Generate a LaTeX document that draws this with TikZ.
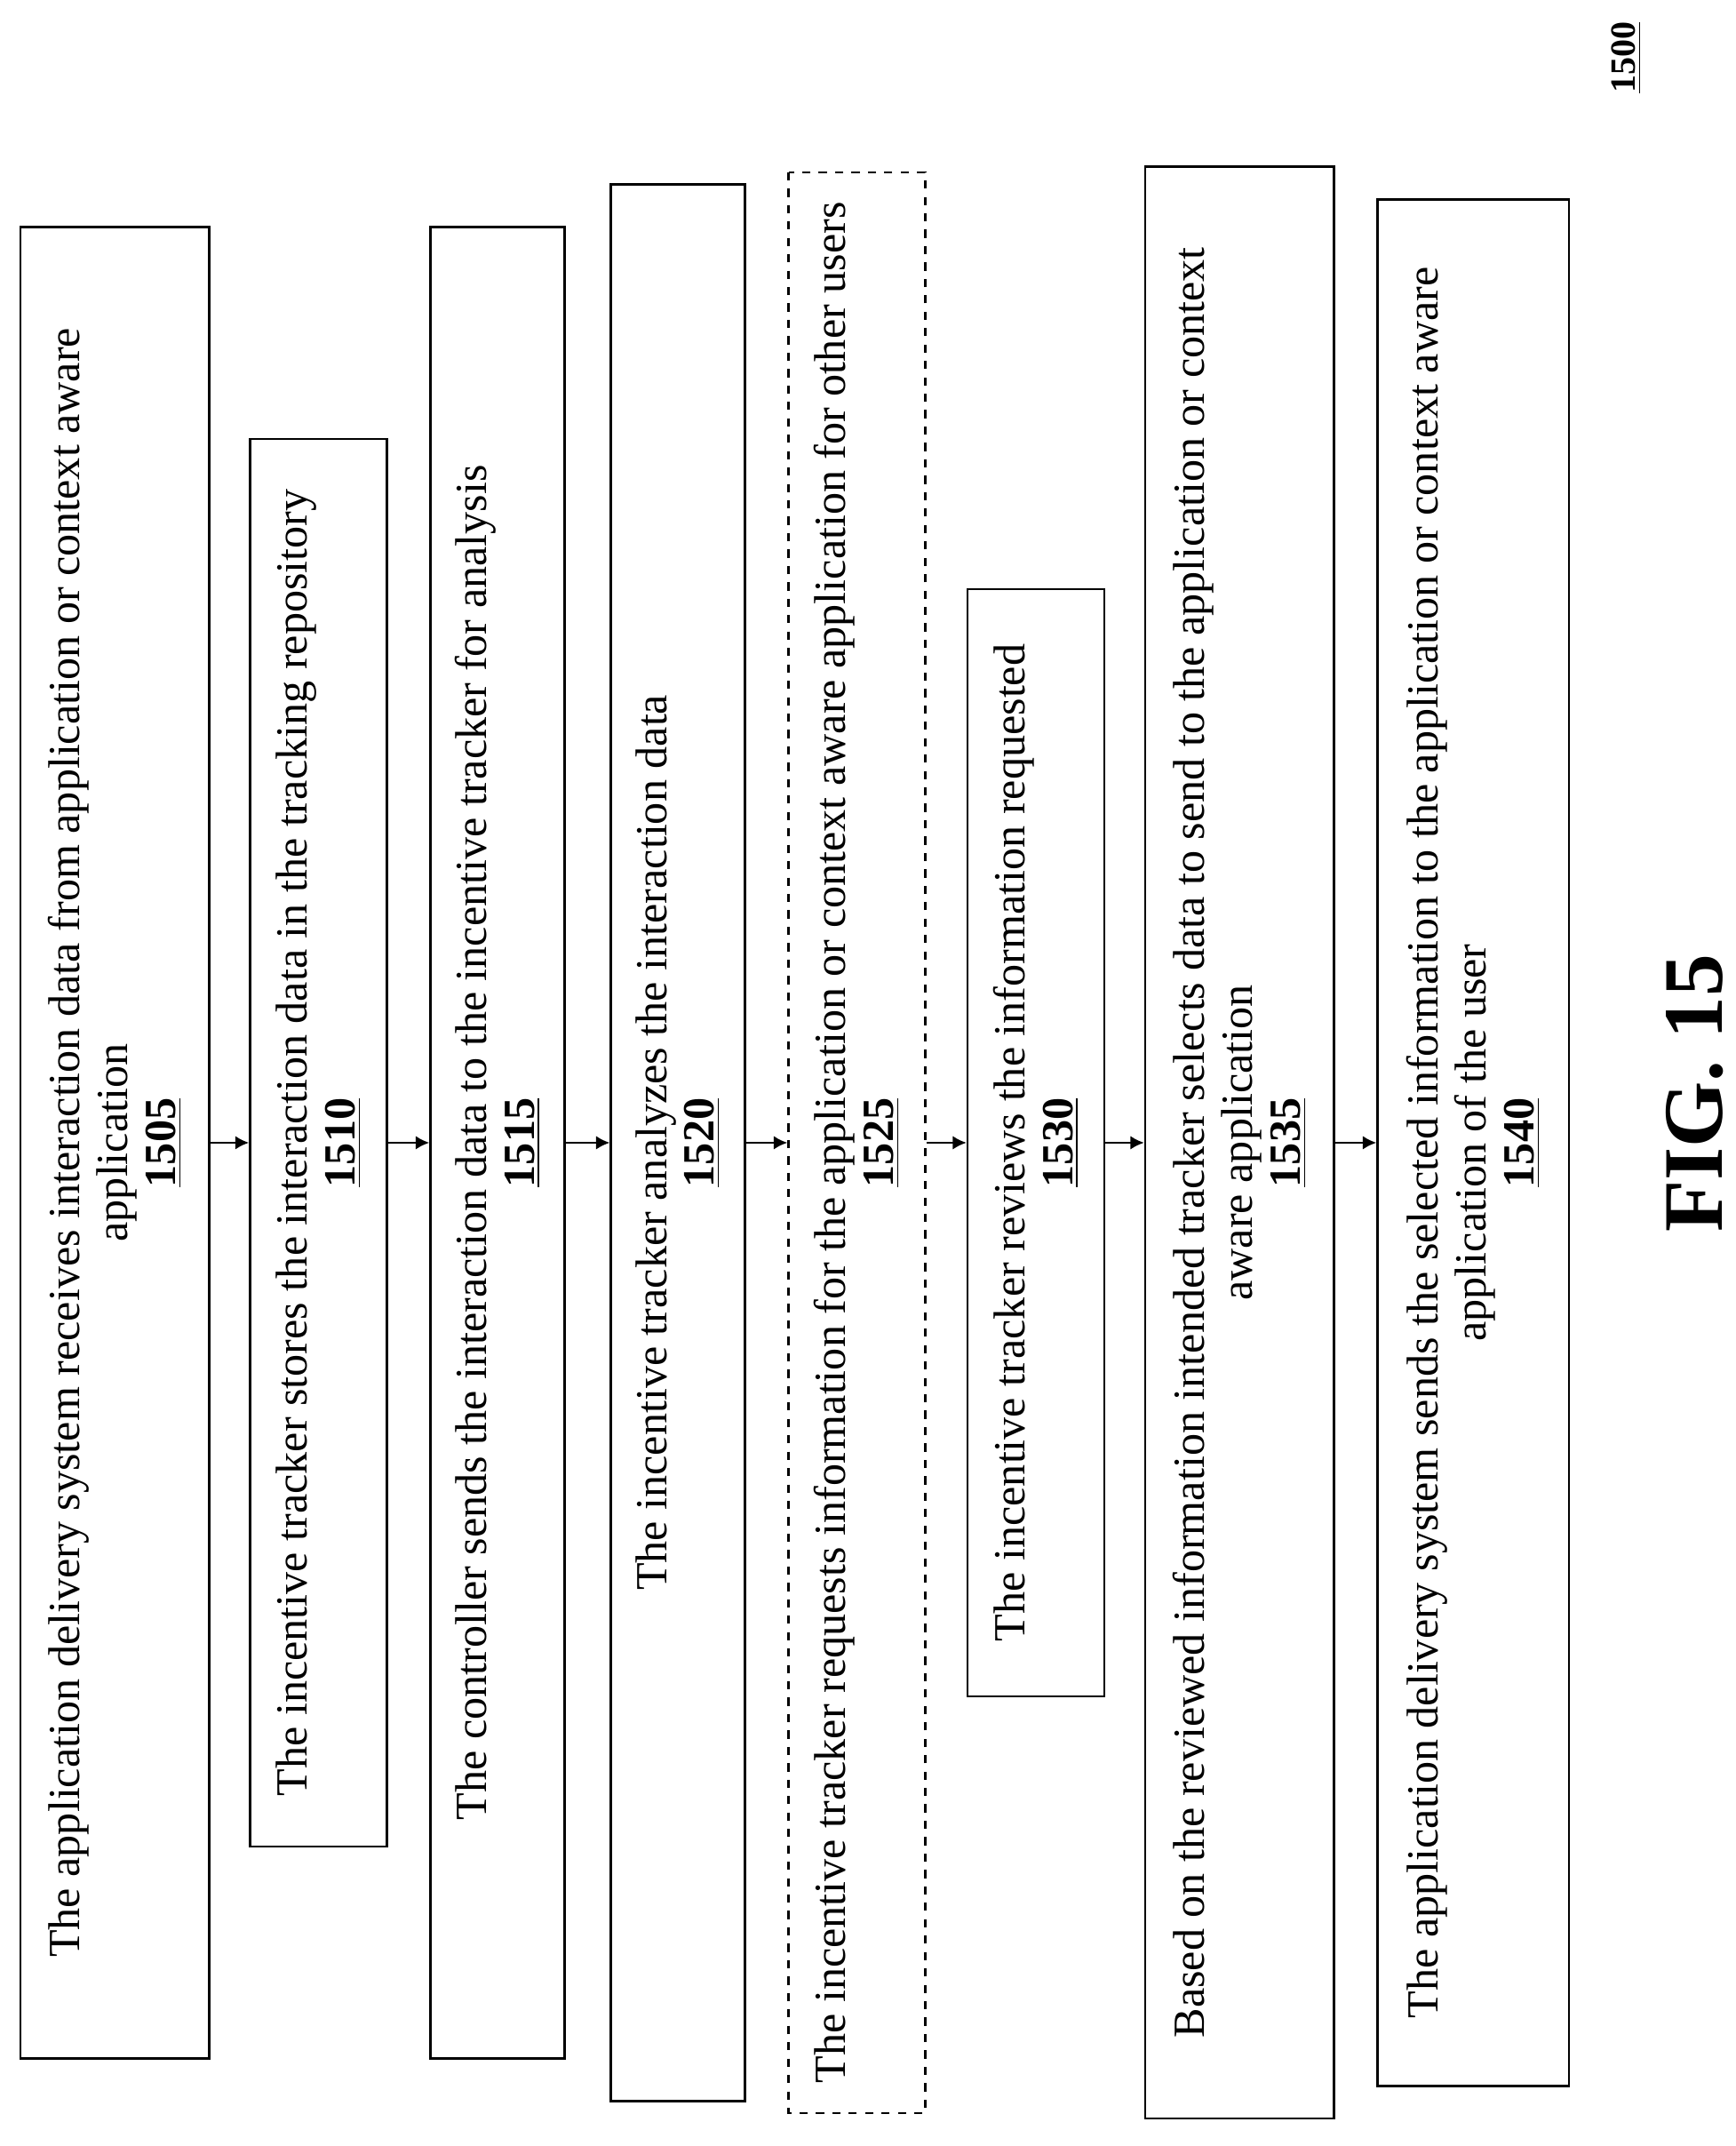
\documentclass[tikz,border=0pt]{standalone}
\usepackage{fontspec}
\setmainfont{Liberation Serif}
\usetikzlibrary{arrows.meta}
\newcommand{\stepnum}[1]{\textbf{\underline{#1}}}
\begin{document}
\begin{tikzpicture}[x={(0.5pt,0)},y={(0,-0.5pt)}]
\tikzstyle{stepbox}=[draw,thick,rotate=90,inner sep=0pt,align=center,font=\fontsize{16.3}{17.5}\selectfont]
\tikzstyle{flow}=[-{Latex[length=5pt,width=5pt]},thick]
\useasboundingbox (0,0) rectangle (1270,1570);
\node [stepbox,minimum width=670pt,minimum height=69pt] (s1505) at (84,836)
  {The application delivery system receives interaction data from application or context aware\\application\\\stepnum{1505}};
\node [stepbox,minimum width=515pt,minimum height=50pt] (s1510) at (233,836)
  {The incentive tracker stores the interaction data in the tracking repository\\\stepnum{1510}};
\node [stepbox,minimum width=670pt,minimum height=49pt] (s1515) at (364,836)
  {The controller sends the interaction data to the incentive tracker for analysis\\\stepnum{1515}};
\node [stepbox,minimum width=701pt,minimum height=49pt] (s1520) at (496,836)
  {The incentive tracker analyzes the interaction data\\\stepnum{1520}};
\node [stepbox,dashed,minimum width=710pt,minimum height=50pt] (s1525) at (627,836)
  {The incentive tracker requests information for the application or context aware application for other users\\\stepnum{1525}};
\node [stepbox,minimum width=405pt,minimum height=50pt] (s1530) at (758,836)
  {The incentive tracker reviews the information requested\\\stepnum{1530}};
\node [stepbox,minimum width=714pt,minimum height=69pt] (s1535) at (907,836)
  {Based on the reviewed information intended tracker selects data to send to the application or context\\aware application\\\stepnum{1535}};
\node [stepbox,minimum width=690pt,minimum height=70pt] (s1540) at (1078,836)
  {The application delivery system sends the selected information to the application or context aware\\application of the user\\\stepnum{1540}};
\draw [flow] (s1505.south) -- (s1510.north);
\draw [flow] (s1510.south) -- (s1515.north);
\draw [flow] (s1515.south) -- (s1520.north);
\draw [flow] (s1520.south) -- (s1525.north);
\draw [flow] (s1525.south) -- (s1530.north);
\draw [flow] (s1530.south) -- (s1535.north);
\draw [flow] (s1535.south) -- (s1540.north);
\node [rotate=90,font=\fontsize{13}{15}\selectfont] (fignum) at (1190,42) {\stepnum{1500}};
\node [rotate=90,font=\bfseries\fontsize{31}{34}\selectfont] (figlabel) at (1240,800) {FIG. 15};
\end{tikzpicture}
\end{document}
